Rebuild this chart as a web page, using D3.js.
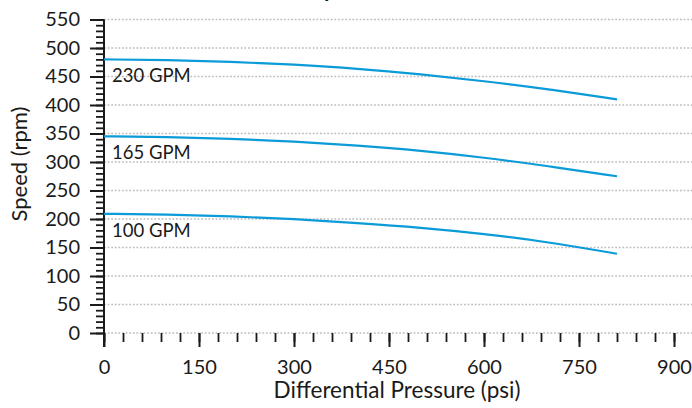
<!DOCTYPE html>
<html><head><meta charset="utf-8">
<script src="https://cdn.jsdelivr.net/npm/d3@7/dist/d3.min.js"></script>
<style>
body{margin:0;background:#fff;}
svg{display:block;font-family:Lato,"Noto Sans",sans-serif;}
</style></head>
<body><svg id="chart" width="692" height="408"></svg>
<script>
const title = "Speed vs. Differential Pressure";
const xLabel = "Differential Pressure (psi)";
const yLabel = "Speed (rpm)";
const pressure = [0, 100, 200, 300, 400, 500, 600, 700, 810];
const flowLabels = ["230 GPM", "165 GPM", "100 GPM"];
const speed230 = [480, 479, 476, 471, 464, 454, 442, 428, 410];
const speed165 = [345, 344, 341, 336, 329, 320, 308, 293, 275];
const speed100 = [209, 208, 205, 200, 193, 185, 174, 160, 139];
const xMajorTicks = [0, 150, 300, 450, 600, 750, 900];
const yMajorTicks = [0, 50, 100, 150, 200, 250, 300, 350, 400, 450, 500, 550];

const series = [speed230, speed165, speed100];
const svg = d3.select("#chart");
const W = 692;
const x = d3.scaleLinear().domain([0, 900]).range([104, 674]);
const y = d3.scaleLinear().domain([0, 550]).range([333, 19.5]);
const ink = "#1a1a1a";

// grid
svg.append("g").selectAll("line").data(yMajorTicks).join("line")
  .attr("x1", x(0)).attr("x2", W)
  .attr("y1", d => y(d)).attr("y2", d => y(d))
  .attr("stroke", "#bdbdbd").attr("stroke-width", 1.6)
  .attr("stroke-dasharray", "1.8,1.8");

// minor ticks
const xMinor = d3.range(0, 901, 30);
const yMinor = d3.range(0, 551, 10);
const gxm = svg.append("g").attr("transform", `translate(0,${y(0)})`)
  .call(d3.axisBottom(x).tickValues(xMinor).tickSize(9).tickFormat(""));
const gym = svg.append("g").attr("transform", `translate(${x(0)},0)`)
  .call(d3.axisLeft(y).tickValues(yMinor).tickSize(8).tickFormat(""));
[gxm, gym].forEach(g => {
  g.select(".domain").remove();
  g.selectAll(".tick line").attr("stroke", ink).attr("stroke-width", 1.8);
});

// major axes
const gx = svg.append("g").attr("transform", `translate(0,${y(0)})`)
  .call(d3.axisBottom(x).tickValues(xMajorTicks).tickSize(14).tickPadding(13));
const gy = svg.append("g").attr("transform", `translate(${x(0)},0)`)
  .call(d3.axisLeft(y).tickValues(yMajorTicks).tickSize(14).tickPadding(10));
gx.select(".domain").remove();
gy.select(".domain").remove();
[gx, gy].forEach(g => {
  g.selectAll(".tick line").attr("stroke", ink).attr("stroke-width", 2);
  g.selectAll(".tick text").attr("fill", ink).attr("font-size", 20)
    .attr("font-family", "Lato, sans-serif");
});

// y axis line
svg.append("line").attr("x1", x(0)).attr("x2", x(0))
  .attr("y1", y(550)).attr("y2", y(0) + 14)
  .attr("stroke", ink).attr("stroke-width", 2);

// curves
const line = d3.line().x((d, i) => x(pressure[i])).y(d => y(d)).curve(d3.curveBasis);
svg.append("g").selectAll("path").data(series).join("path")
  .attr("d", d => line(d)).attr("fill", "none")
  .attr("stroke", "#0a9bd8").attr("stroke-width", 2.2);

// curve labels
svg.append("g").selectAll("text").data(series).join("text")
  .attr("x", x(0) + 8).attr("y", d => y(d[0]) + 23)
  .attr("font-size", 18.5).attr("fill", ink)
  .text((d, i) => flowLabels[i]);

// axis titles
svg.append("text").attr("x", 397).attr("y", 398).attr("text-anchor", "middle")
  .attr("font-size", 22.5).attr("fill", ink).text(xLabel);
svg.append("text").attr("transform", "translate(27,164) rotate(-90)")
  .attr("text-anchor", "middle").attr("font-size", 22).attr("fill", ink).text(yLabel);

// title (mostly above visible area, as in the reference)
svg.append("text").attr("x", 461).attr("y", -3).attr("text-anchor", "middle")
  .attr("font-size", 22).attr("font-weight", "bold").attr("fill", ink).text(title);
</script></body></html>
